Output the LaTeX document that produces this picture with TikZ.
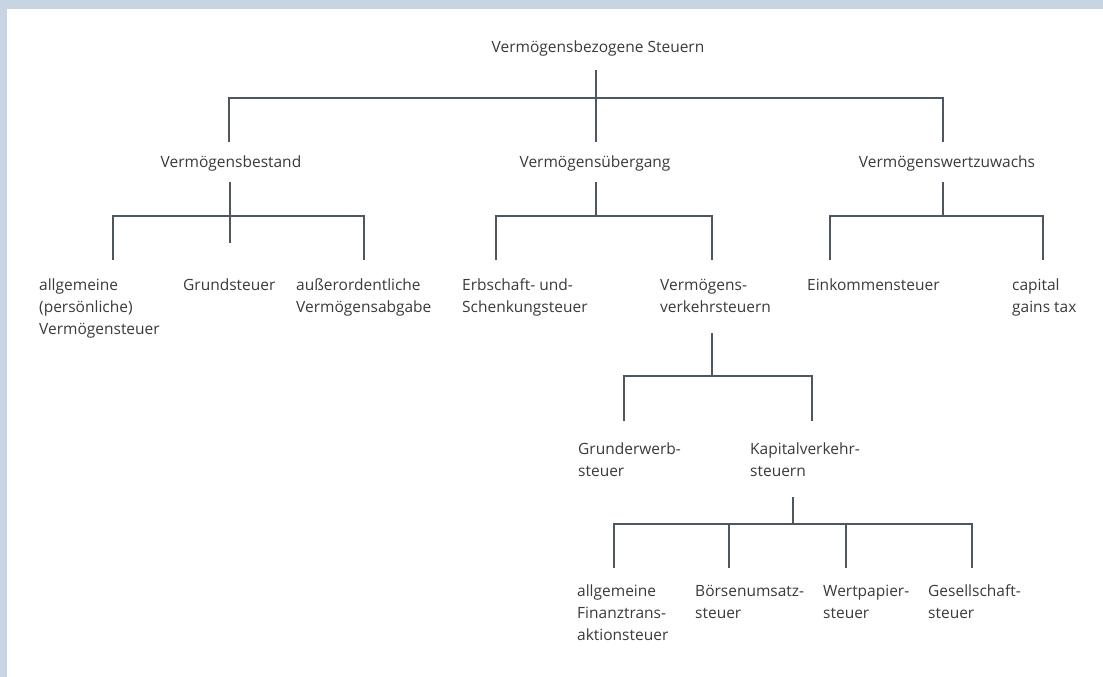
\documentclass[tikz,border=0pt]{standalone}
\usepackage{fontspec}
\newfontfamily\lblfamily{Open Sans}
\definecolor{band}{HTML}{C9D4E2}
\definecolor{linec}{HTML}{4E5660}
\definecolor{textc}{HTML}{3A3A3A}
\tikzset{
  lbl/.style={anchor=north west, inner sep=0pt, align=left, text=textc,
    font=\lblfamily\fontsize{15.5}{22}\selectfont},
  ctr/.style={anchor=base, inner sep=0pt, text=textc,
    font=\lblfamily\fontsize{15.5}{22}\selectfont},
  conn/.style={draw=linec, line width=1.8pt}
}
\begin{document}
\begin{tikzpicture}[x=1pt,y=-1pt]
\useasboundingbox (0,0) rectangle (1103,677);
\fill[white] (0,0) rectangle (1103,677);
\fill[band] (0,0) rectangle (1103,9);
\fill[band] (0,0) rectangle (7,677);

% nodes
\node[ctr] (root) at (598,53) {Vermögensbezogene Steuern};
\node[ctr] (bestand) at (231,167) {Vermögensbestand};
\node[ctr] (uebergang) at (595,167) {Vermögensübergang};
\node[ctr] (zuwachs) at (947,167) {Vermögenswertzuwachs};

\node[lbl] (allgvs) at (39,274.6) {\strut allgemeine\\(persönliche)\\Vermögensteuer};
\node[lbl] (grundst) at (183,274.6) {\strut Grundsteuer};
\node[lbl] (ausserord) at (296,274.6) {\strut außerordentliche\\Vermögensabgabe};
\node[lbl] (erbschaft) at (462,274.6) {\strut Erbschaft- und-\\Schenkungsteuer};
\node[lbl] (vverkehr) at (660,274.6) {\strut Vermögens-\\verkehrsteuern};
\node[lbl] (einkommen) at (807,274.6) {\strut Einkommensteuer};
\node[lbl] (capital) at (1012,274.6) {\strut capital\\gains tax};

\node[lbl] (grunderwerb) at (578,438.6) {\strut Grunderwerb-\\steuer};
\node[lbl] (kapital) at (750,438.6) {\strut Kapitalverkehr-\\steuern};

\node[lbl] (finanz) at (577,580.6) {\strut allgemeine\\Finanztrans-\\aktionsteuer};
\node[lbl] (boerse) at (695,580.6) {\strut Börsenumsatz-\\steuer};
\node[lbl] (wertpapier) at (823,580.6) {\strut Wertpapier-\\steuer};
\node[lbl] (gesellschaft) at (928,580.6) {\strut Gesellschaft-\\steuer};

% junction coordinates
\coordinate (rootS) at (596,70);
\coordinate (bar0) at (596,98);
\coordinate (bestandT) at (229,142);
\coordinate (uebergangT) at (596,142);
\coordinate (zuwachsT) at (943,142);
\coordinate (bestandB) at (230,182);
\coordinate (uebergangB) at (596,182);
\coordinate (zuwachsB) at (943,182);
\coordinate (bar1a) at (230,216);
\coordinate (bar1b) at (596,216);
\coordinate (bar1c) at (943,216);
\coordinate (allgT) at (113,260);
\coordinate (grundT) at (230,243);
\coordinate (ausserT) at (364,260);
\coordinate (erbT) at (496,260);
\coordinate (vverkT) at (712,260);
\coordinate (einkT) at (830,260);
\coordinate (capT) at (1043,260);
\coordinate (vverkB) at (712,333);
\coordinate (bar2) at (712,376);
\coordinate (grunderwerbT) at (624,421);
\coordinate (kapitalT) at (812,421);
\coordinate (kapitalB) at (793,497);
\coordinate (bar3) at (793,524);
\coordinate (finanzT) at (614,568);
\coordinate (boerseT) at (729,568);
\coordinate (wertT) at (846,568);
\coordinate (gesT) at (972,568);

% connectors
\draw[conn] (rootS) -- (uebergangT);
\draw[conn] (bestandT) -- (bestandT |- bar0) -- (zuwachsT |- bar0) -- (zuwachsT);
\draw[conn] (bestandB) -- (grundT);
\draw[conn] (allgT) -- (allgT |- bar1a) -- (ausserT |- bar1a) -- (ausserT);
\draw[conn] (uebergangB) -- (bar1b);
\draw[conn] (erbT) -- (erbT |- bar1b) -- (vverkT |- bar1b) -- (vverkT);
\draw[conn] (zuwachsB) -- (bar1c);
\draw[conn] (einkT) -- (einkT |- bar1c) -- (capT |- bar1c) -- (capT);
\draw[conn] (vverkB) -- (bar2);
\draw[conn] (grunderwerbT) -- (grunderwerbT |- bar2) -- (kapitalT |- bar2) -- (kapitalT);
\draw[conn] (kapitalB) -- (bar3);
\draw[conn] (finanzT) -- (finanzT |- bar3) -- (gesT |- bar3) -- (gesT);
\draw[conn] (boerseT) -- (boerseT |- bar3);
\draw[conn] (wertT) -- (wertT |- bar3);
\end{tikzpicture}
\end{document}
